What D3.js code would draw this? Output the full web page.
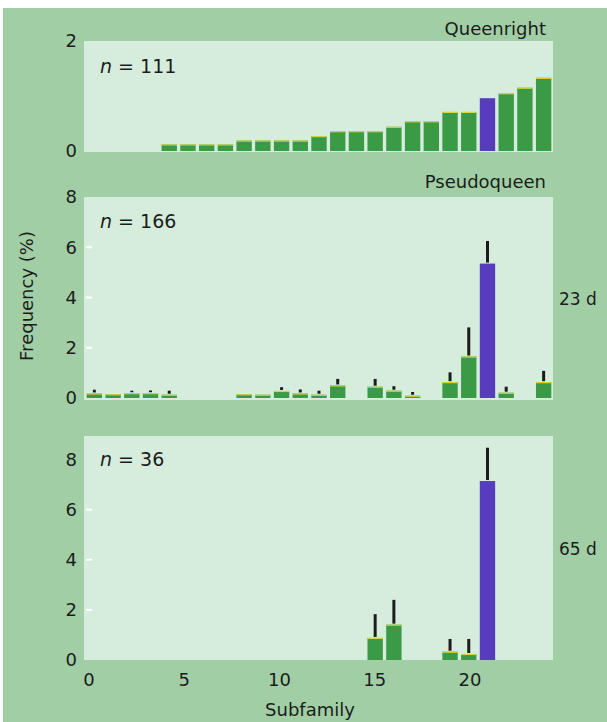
<!DOCTYPE html>
<html>
<head>
<meta charset="utf-8">
<script src="https://d3js.org/d3.v7.min.js"></script>
<style>
  body { margin: 0; background: #fff; }
  text { font-family: "DejaVu Sans", sans-serif; fill: #1a1d1b; }
</style>
</head>
<body>
<script>
// subfamily index on the x axis
var subfamilies = [0,1,2,3,4,5,6,7,8,9,10,11,12,13,14,15,16,17,18,19,20,21,22,23,24];
var xTickValues = [0, 5, 10, 15, 20];
var purpleSub = 21;

// queenright colonies (%)
var queenright = [0,0,0,0,0.12,0.12,0.12,0.12,0.19,0.19,0.19,0.19,0.27,0.36,0.36,0.36,0.44,0.54,0.54,0.71,0.71,0.96,1.05,1.15,1.33];

// pseudoqueen, 23 d (%), upper end of error bar
var pseudo23 = [0.18,0.15,0.19,0.19,0.13,0,0,0,0.15,0.13,0.28,0.18,0.13,0.5,0,0.45,0.29,0.09,0,0.63,1.65,5.35,0.21,0,0.63];
var pseudo23Err = [0.33,null,0.29,0.3,0.29,null,null,null,null,null,0.43,0.34,0.29,0.76,null,0.76,0.47,0.24,null,1.02,2.81,6.25,0.45,null,1.08];

// pseudoqueen, 65 d (%)
var pseudo65 = [0,0,0,0,0,0,0,0,0,0,0,0,0,0,0,0.88,1.41,0,0,0.33,0.24,7.14,0,0,0];
var pseudo65Err = [null,null,null,null,null,null,null,null,null,null,null,null,null,null,null,1.83,2.4,null,null,0.84,0.84,8.47,null,null,null];

var width = 607, height = 722;
var svg = d3.select("body").append("svg")
  .attr("width", width)
  .attr("height", height);

svg.append("rect")
  .attr("x", 3).attr("y", 8)
  .attr("width", width - 3).attr("height", height - 8)
  .attr("fill", "#a2cea6");

var x = d3.scaleBand()
  .domain(subfamilies)
  .range([85, 553])
  .paddingInner(0.18)
  .paddingOuter(0.09);

// tick labels in the original are placed a little off the bar centres
var xTick = d3.scaleLinear().domain([0, 20]).range([89, 470]);

var panels = [
  { values: queenright, err: null, max: 2, ticks: [0, 2], inner: [], top: 41, bottom: 152, base: 151, topVal: 41,
    title: "Queenright", titleY: 35, n: "111", nY: 73 },
  { values: pseudo23, err: pseudo23Err, max: 8, ticks: [0, 2, 4, 6, 8], inner: [2, 4, 6], top: 197, bottom: 400, base: 398, topVal: 197,
    title: "Pseudoqueen", titleY: 188, n: "166", nY: 228, side: "23 d", sideY: 305 },
  { values: pseudo65, err: pseudo65Err, max: 8, ticks: [0, 2, 4, 6, 8], inner: [2, 4, 6], top: 436, bottom: 660, base: 660, topVal: 459.5,
    n: "36", nY: 466, side: "65 d", sideY: 555 }
];

panels.forEach(function(p) {
  var y = d3.scaleLinear().domain([0, p.max]).range([p.base, p.topVal]);
  var g = svg.append("g");

  g.append("rect")
    .attr("x", 84).attr("y", p.top)
    .attr("width", 553 - 84).attr("height", p.bottom - p.top)
    .attr("fill", "#d6ecdd");

  // small white ticks inside the plot
  g.selectAll(".itick").data(p.inner).enter().append("line")
    .attr("x1", 86).attr("x2", 92)
    .attr("y1", function(d) { return y(d); })
    .attr("y2", function(d) { return y(d); })
    .attr("stroke", "#fff").attr("stroke-width", 2);

  g.selectAll(".ylab").data(p.ticks).enter().append("text")
    .attr("x", 77)
    .attr("y", function(d) { return y(d); })
    .attr("dy", "0.36em")
    .attr("text-anchor", "end")
    .style("font-size", "18px")
    .text(function(d) { return d; });

  var bars = subfamilies.filter(function(s) { return p.values[s] > 0; });

  g.selectAll(".bar").data(bars).enter().append("rect")
    .attr("x", function(s) { return x(s); })
    .attr("width", x.bandwidth())
    .attr("y", function(s) { return y(p.values[s]); })
    .attr("height", function(s) { return y(0) - y(p.values[s]); })
    .attr("fill", function(s) { return s === purpleSub ? "#573cbd" : "#3b9a45"; });

  g.selectAll(".cap").data(bars.filter(function(s) { return s !== purpleSub; })).enter().append("line")
    .attr("x1", function(s) { return x(s); })
    .attr("x2", function(s) { return x(s) + x.bandwidth(); })
    .attr("y1", function(s) { return y(p.values[s]) + 0.5; })
    .attr("y2", function(s) { return y(p.values[s]) + 0.5; })
    .attr("stroke", "#c9d84c").attr("stroke-width", 1.2);

  if (p.err) {
    var errs = subfamilies.filter(function(s) { return p.err[s] != null; });
    g.selectAll(".err").data(errs).enter().append("line")
      .attr("x1", function(s) { return x(s) + x.bandwidth() / 2; })
      .attr("x2", function(s) { return x(s) + x.bandwidth() / 2; })
      .attr("y1", function(s) { return y(p.values[s]) - 1; })
      .attr("y2", function(s) { return y(p.err[s]); })
      .attr("stroke", "#1c1c1c").attr("stroke-width", 3);
  }

  var nt = g.append("text").attr("x", 100).attr("y", p.nY).style("font-size", "19px");
  nt.append("tspan").style("font-style", "italic").text("n");
  nt.append("tspan").text(" = " + p.n);

  if (p.title) {
    g.append("text")
      .attr("x", 546).attr("y", p.titleY)
      .attr("text-anchor", "end")
      .style("font-size", "18px")
      .text(p.title);
  }
  if (p.side) {
    g.append("text")
      .attr("x", 559).attr("y", p.sideY)
      .style("font-size", "17px")
      .text(p.side);
  }
});

svg.selectAll(".xlab").data(xTickValues).enter().append("text")
  .attr("x", function(d) { return xTick(d); })
  .attr("y", 686)
  .attr("text-anchor", "middle")
  .style("font-size", "18px")
  .text(function(d) { return d; });

svg.append("text")
  .attr("x", 310).attr("y", 716)
  .attr("text-anchor", "middle")
  .style("font-size", "18px")
  .text("Subfamily");

svg.append("text")
  .attr("transform", "translate(33,296) rotate(-90)")
  .attr("text-anchor", "middle")
  .style("font-size", "18px")
  .text("Frequency (%)");
</script>
</body>
</html>
